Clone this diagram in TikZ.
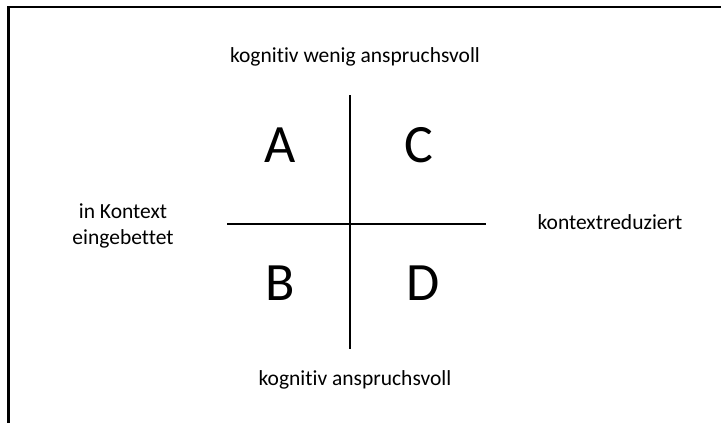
\documentclass[tikz,border=0pt]{standalone}
\usepackage{fontspec}
\setmainfont[Ligatures=NoCommon]{Carlito}
\begin{document}
\begin{tikzpicture}[x=1pt,y=-1pt,
  axis/.style={line width=2pt,black},
  quad/.style={font=\fontsize{54}{54}\selectfont,inner sep=0pt},
  lbl/.style={font=\fontsize{21.5}{26}\selectfont,inner sep=0pt,align=center}]
\useasboundingbox (0,0) rectangle (721,423);
\coordinate (bl) at (8.5,423);
\coordinate (tl) at (8.5,7);
\coordinate (tr) at (721,7);
\draw[line width=2.5pt] (bl) -- (tl) -- (tr);
\coordinate (vt) at (350,95);
\coordinate (vb) at (350,349);
\coordinate (hl) at (227,224);
\coordinate (hr) at (486,224);
\draw[axis] (vt) -- (vb);
\draw[axis] (hl) -- (hr);
\node[quad] (A) at (280,145) {A};
\node[quad] (C) at (419,145) {C};
\node[quad] (B) at (280,283) {B};
\node[quad] (D) at (423,283) {D};
\node[lbl] (top) at (355,57) {kognitiv wenig anspruchsvoll};
\node[lbl] (bot) at (355,380) {kognitiv anspruchsvoll};
\node[lbl] (left) at (123,226) {in Kontext\\eingebettet};
\node[lbl] (right) at (610,222) {kontextreduziert};
\end{tikzpicture}
\end{document}
